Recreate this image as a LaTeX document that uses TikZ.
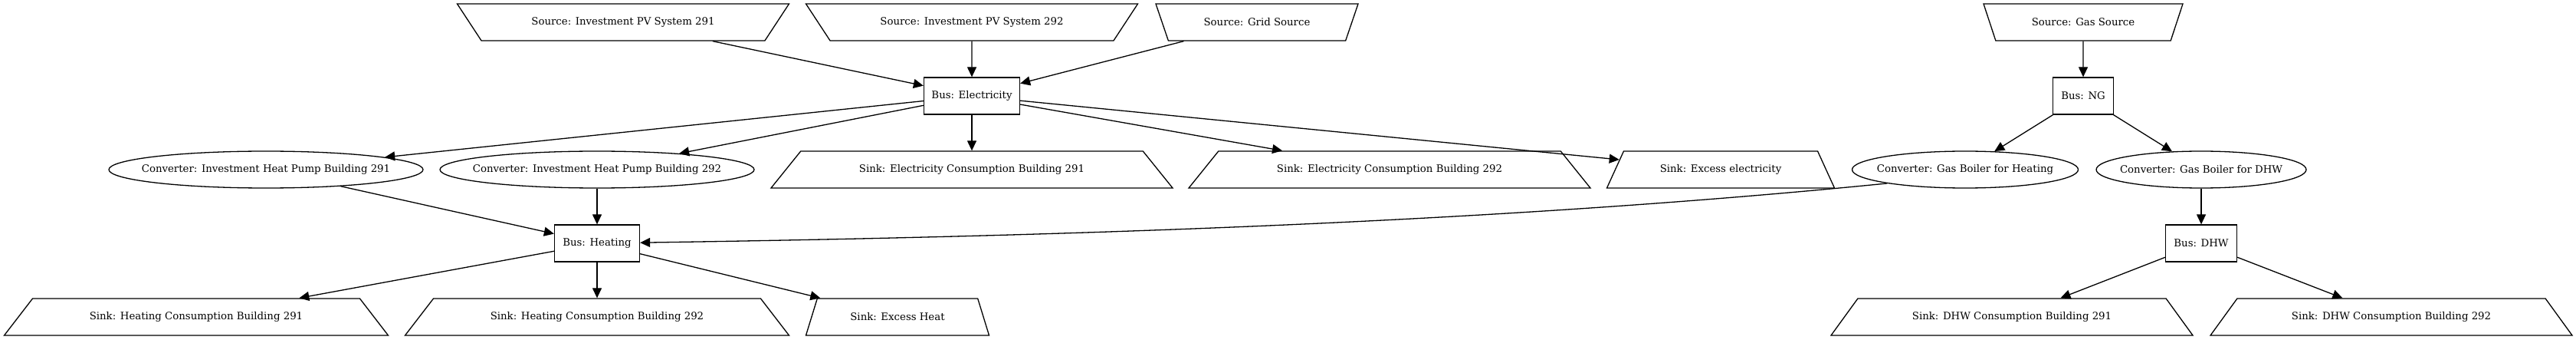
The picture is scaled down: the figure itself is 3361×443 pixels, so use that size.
\documentclass[tikz,border=0pt]{standalone}
\usepackage{fontspec}
\setmainfont{DejaVu Serif}
\usetikzlibrary{shapes.geometric,arrows.meta}

\tikzset{
  base/.style={draw, line width=1.3pt, font=\fontsize{13.3}{15}\selectfont, minimum height=48pt, inner sep=2pt},
  bus/.style={base, rectangle, minimum width=#1pt},
  conv/.style={base, ellipse, inner xsep=-150pt, inner ysep=-20pt, minimum width=#1pt},
  trap/.style={base, trapezium, trapezium stretches body},
  sink/.code={\pgfmathsetmacro\trapang{atan(230.8/#1)}\tikzset{trap, minimum width=#1pt, trapezium angle=\trapang}},
  source/.code={\pgfmathsetmacro\trapang{atan(230.8/#1)}\tikzset{trap, minimum width=#1pt, trapezium angle=\trapang, shape border rotate=180}},
  edge/.style={line width=1.3pt, -{Triangle[length=13pt, width=12pt]}},
}

\begin{document}
\begin{tikzpicture}[x=1pt, y=-1pt]

\useasboundingbox (0,0) rectangle (3361,443);

% sources
\node[source=433] (pvA) at (813,29) {Source: Investment PV System 291};
\node[source=433] (pvB) at (1268,29) {Source: Investment PV System 292};
\node[source=264] (grid) at (1640,29) {Source: Grid Source};
\node[source=260] (gas) at (2718,29) {Source: Gas Source};

% buses
\node[bus=125] (busel) at (1268,125) {Bus: Electricity};
\node[bus=79] (busng) at (2718,125) {Bus: NG};
\node[bus=111] (busheat) at (779,317) {Bus: Heating};
\node[bus=93] (busdhw) at (2872,317) {Bus: DHW};

% converters
\node[conv=410] (hpA) at (347,221) {Converter: Investment Heat Pump Building 291};
\node[conv=410] (hpB) at (779,221) {Converter: Investment Heat Pump Building 292};
\node[conv=295] (gbheat) at (2564,221) {Converter: Gas Boiler for Heating};
\node[conv=274] (gbdhw) at (2872,221) {Converter: Gas Boiler for DHW};

% sinks
\node[sink=524] (elA) at (1268,221) {Sink: Electricity Consumption Building 291};
\node[sink=524] (elB) at (1813,221) {Sink: Electricity Consumption Building 292};
\node[sink=297] (exel) at (2245,221) {Sink: Excess electricity};
\node[sink=501] (htA) at (256,413) {Sink: Heating Consumption Building 291};
\node[sink=501] (htB) at (779,413) {Sink: Heating Consumption Building 292};
\node[sink=239] (exheat) at (1171,413) {Sink: Excess Heat};
\node[sink=472] (dhwA) at (2625,413) {Sink: DHW Consumption Building 291};
\node[sink=472] (dhwB) at (3120,413) {Sink: DHW Consumption Building 292};

% electricity
\draw[edge] (pvA) -- (busel);
\draw[edge] (pvB) -- (busel);
\draw[edge] (grid) -- (busel);
\draw[edge] (busel) -- (hpA);
\draw[edge] (busel) -- (hpB);
\draw[edge] (busel) -- (elA);
\draw[edge] (busel) -- (elB);
\draw[edge] (busel) -- (exel);

% heating
\draw[edge] (hpA) -- (busheat);
\draw[edge] (hpB) -- (busheat);
\draw[edge] (gbheat.190) .. controls +(-540,54) and +(540,-8) .. (busheat);
\draw[edge] (busheat) -- (htA);
\draw[edge] (busheat) -- (htB);
\draw[edge] (busheat) -- (exheat);

% gas and dhw
\draw[edge] (gas) -- (busng);
\draw[edge] (busng) -- (gbheat);
\draw[edge] (busng) -- (gbdhw);
\draw[edge] (gbdhw) -- (busdhw);
\draw[edge] (busdhw) -- (dhwA);
\draw[edge] (busdhw) -- (dhwB);

\end{tikzpicture}
\end{document}
